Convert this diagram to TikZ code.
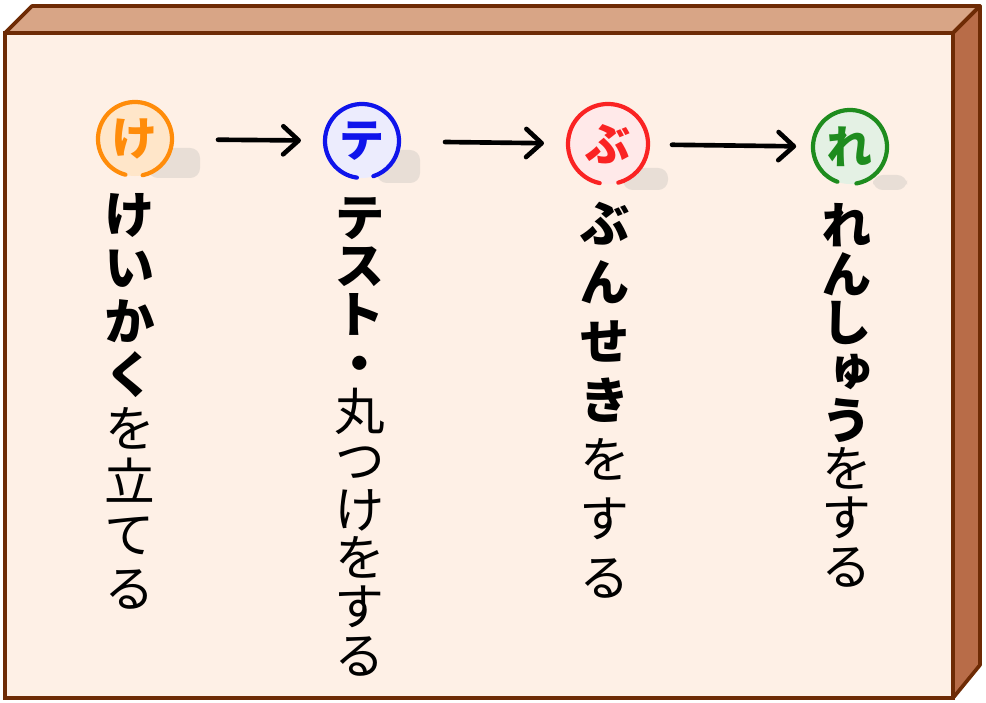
\documentclass[tikz,border=0pt]{standalone}
\usepackage{fontspec}
\newfontfamily\jp[RawFeature=+vert]{Noto Sans CJK JP}
\usetikzlibrary{arrows.meta, positioning}
\definecolor{boardfront}{RGB}{254, 240, 230}
\definecolor{boardtop}{RGB}{216, 165, 134}
\definecolor{boardside}{RGB}{184, 108, 72}
\definecolor{boardline}{RGB}{110, 43, 5}
\definecolor{planorange}{RGB}{255, 140, 10}
\definecolor{testblue}{RGB}{15, 20, 235}
\definecolor{analyred}{RGB}{250, 35, 35}
\definecolor{drillgreen}{RGB}{30, 140, 30}
\definecolor{smudgegray}{RGB}{232, 222, 214}
\newcommand{\bk}[1]{{\bfseries #1}}
\newcommand{\colfont}[1]{\jp\fontsize{36}{#1}\selectfont\lineskiplimit=-40pt\relax}

\begin{document}
\begin{tikzpicture}[x=0.025cm, y=0.025cm,
  badge/.style={circle, minimum size=1.85cm, inner sep=0pt, outer sep=0pt, font=\jp\bfseries\fontsize{33}{33}\selectfont},
  ring/.style={line width=3pt, line cap=round},
  smudge/.style={fill=smudgegray, rounded corners=7pt},
  flowarrow/.style={line width=3.3pt, line cap=round, -{Straight Barb[length=11pt, width=20pt, line cap=round, line join=round]}},
  vcol/.style={anchor=north, align=center, inner sep=0pt}]
  \useasboundingbox (0,0) rectangle (986,703);

  % Board
  \draw[boardline, line width=2.6pt, line join=round, fill=boardtop] (5,670) -- (32,697) -- (980,697) -- (953,670) -- cycle;
  \draw[boardline, line width=2.6pt, line join=round, fill=boardside] (953,670) -- (980,697) -- (980,38) -- (953,5) -- cycle;
  \draw[boardline, line width=3pt, fill=boardfront] (5,5) rectangle (953,670);

  % Shadows under the badges
  \fill[smudge] (148,525) rectangle (200,555);
  \fill[smudge] (377,520) rectangle (420,553);
  \fill[smudge] (623,513) rectangle (668,535);
  \fill[smudge] (873,513) rectangle (907,528);

  % Badges
  \node[badge, fill=planorange!22, text=planorange] (plan) at (135,564) {け};
  \draw[ring, planorange] (plan.255) arc[start angle=255, end angle=-78, radius=0.925cm];
  \node[badge, fill=testblue!8, text=testblue] (test) at (362,562) {テ};
  \draw[ring, testblue] (test.262) arc[start angle=262, end angle=-72, radius=0.925cm];
  \node[badge, minimum size=2cm, fill=analyred!10, text=analyred] (analy) at (608,559) {ぶ};
  \draw[ring, analyred] (analy.258) arc[start angle=258, end angle=-75, radius=1cm];
  \node[badge, fill=drillgreen!12, text=drillgreen] (drill) at (850,556) {れ};
  \draw[ring, drillgreen] (drill.250) arc[start angle=250, end angle=-80, radius=0.925cm];

  % Arrows
  \draw[flowarrow, shorten <=1.15cm, shorten >=0.6cm] (plan) -- (test);
  \draw[flowarrow, shorten <=1.15cm, shorten >=0.6cm] (test) -- (analy);
  \draw[flowarrow, shorten <=0.6cm, shorten >=0.42cm] (analy) -- (drill);

  % Vertical captions
  \node[vcol, font=\colfont{38}] (plantext) at (130,510)
    {\bk{け}\\\bk{い}\\\bk{か}\\\bk{く}\\を\\立\\て\\る};
  \node[vcol, font=\colfont{34.6}] (testtext) at (360,506)
    {\bk{テ}\\\bk{ス}\\\bk{ト}\\\bk{・}\\丸\\つ\\け\\を\\す\\る};
  \node[vcol, font=\colfont{42}] (analytext) at (605,501)
    {\bk{ぶ}\\\bk{ん}\\\bk{せ}\\\bk{き}\\を\\す\\る};
  \node[vcol, font=\colfont{34.6}] (drilltext) at (847,500)
    {\bk{れ}\\\bk{ん}\\\bk{し}\\\bk{ゅ}\\\bk{う}\\を\\す\\る};
\end{tikzpicture}
\end{document}
